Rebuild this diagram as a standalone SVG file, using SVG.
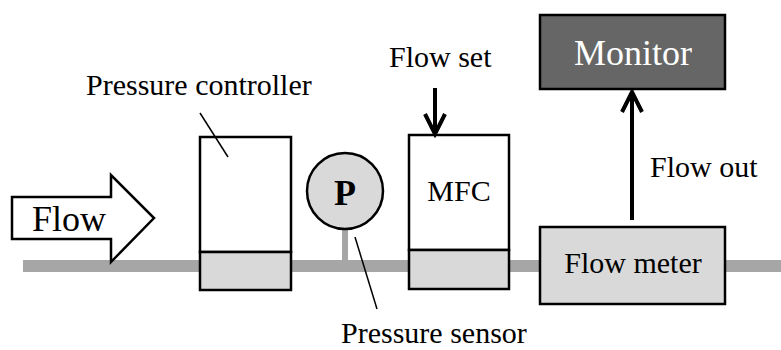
<svg xmlns="http://www.w3.org/2000/svg" width="781" height="350" viewBox="0 0 781 350">
<style>
text{font-family:"Liberation Serif","Times New Roman",serif;fill:#000}
.lbl{font-size:30px}
.box{stroke:#000;stroke-width:2.5}
.gray{fill:#d9d9d9}
.lead{stroke:#000;stroke-width:1.5;fill:none}
.conn{stroke:#000;stroke-width:4;fill:none}
</style>
<defs>
<marker id="vhead" markerUnits="userSpaceOnUse" viewBox="-24 -14 28 28" markerWidth="28" markerHeight="28" refX="0" refY="0" orient="auto">
<path d="M-20,-10 L0,0 L-20,10" stroke="#000" stroke-width="4" fill="none" stroke-linejoin="miter"/>
</marker>
</defs>
<rect id="pipe" x="23" y="260" width="758" height="12" fill="#a6a6a6"/>
<g id="flow-arrow">
<polygon points="12,197 111,197 111,175 154,218 111,262 111,239 12,239" fill="#fff" stroke="#000" stroke-width="2.5" stroke-linejoin="miter"/>
<text x="32" y="231" font-size="36">Flow</text>
</g>
<g id="pressure-controller">
<rect class="box" x="200" y="137" width="91" height="115" fill="#fff"/>
<rect class="box gray" x="200" y="252" width="91" height="38"/>
<text class="lbl" x="86" y="95">Pressure controller</text>
<line class="lead" x1="200" y1="113" x2="228" y2="157"/>
</g>
<g id="pressure-sensor">
<rect x="342" y="228" width="6" height="33" fill="#a6a6a6"/>
<circle class="box gray" cx="345" cy="191" r="38"/>
<text x="345" y="205" font-size="36" font-weight="bold" text-anchor="middle">P</text>
<line class="lead" x1="355" y1="237" x2="377" y2="309"/>
<text class="lbl" x="341" y="343">Pressure sensor</text>
</g>
<g id="mfc">
<rect class="box" x="409" y="135" width="100" height="115" fill="#fff"/>
<rect class="box gray" x="409" y="250" width="100" height="39"/>
<text class="lbl" x="459" y="201" text-anchor="middle">MFC</text>
<text class="lbl" x="389" y="67">Flow set</text>
</g>
<g id="flow-meter">
<rect class="box gray" x="540" y="227" width="185" height="77"/>
<text class="lbl" x="633" y="273" text-anchor="middle">Flow meter</text>
</g>
<g id="monitor">
<rect class="box" x="540" y="15" width="185" height="74" fill="#666"/>
<text x="633" y="65" font-size="36" text-anchor="middle" style="fill:#fff">Monitor</text>
</g>
<g id="connectors">
<line class="conn" x1="435" y1="88" x2="435" y2="134" marker-end="url(#vhead)"/>
<line class="conn" x1="632" y1="220" x2="632" y2="92" marker-end="url(#vhead)"/>
<text class="lbl" x="650" y="177">Flow out</text>
</g>
</svg>
